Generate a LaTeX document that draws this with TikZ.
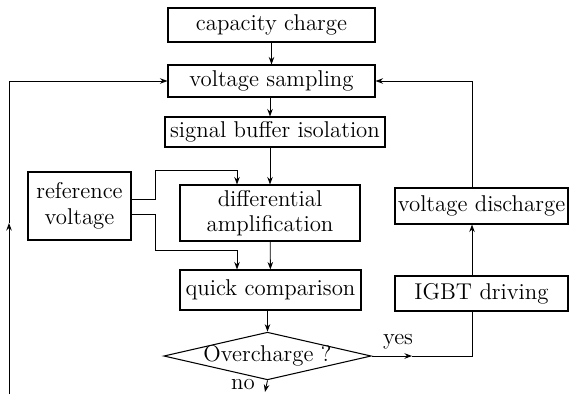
\documentclass[tikz,border=0pt]{standalone}
\usetikzlibrary{
  arrows.meta,
  shapes.geometric,
  calc
}
\tikzset{
  stage/.style={
    draw, line width=0.6pt, inner sep=1pt, align=center,
    font=\fontsize{13}{14.5}\selectfont
  },
  decision/.style={
    draw, diamond, line width=0.6pt, aspect=4.35, inner xsep=-1.1mm, inner ysep=0pt,
    font=\fontsize{13}{14.5}\selectfont
  },
  flow/.style={-{Stealth[length=1.5mm, width=1.1mm]}, line width=0.5pt},
  wire/.style={line width=0.5pt},
  tag/.style={font=\fontsize{13}{14.5}\selectfont, inner sep=1pt}
}
\begin{document}
\begin{tikzpicture}[x=0.2mm, y=0.2mm]
  \useasboundingbox (0,0) rectangle (570,394);
  % main column
  \node[stage, minimum width=41.4mm, minimum height=6.8mm] (charge) at (271.5,369) {capacity charge};
  \node[stage, minimum width=41.4mm, minimum height=6.4mm] (sampling) at (271.5,313) {voltage sampling};
  \node[stage, minimum width=44mm, minimum height=6mm] (buffer) at (275,262) {signal buffer isolation};
  \node[stage, minimum width=20.6mm, minimum height=13.6mm] (refv) at (79.5,188) {reference\\voltage};
  \node[stage, minimum width=36mm, minimum height=11.2mm] (diffamp) at (270,181) {differential\\amplification};
  \node[stage, minimum width=36.2mm, minimum height=8mm] (compare) at (270.5,104) {quick comparison};
  \node[decision] (decide) at (267.5,38) {Overcharge ?};
  % discharge branch
  \node[stage, minimum width=34.6mm, minimum height=7mm] (igbt) at (481.5,100.5) {IGBT driving};
  \node[stage, minimum width=34.6mm, minimum height=7.2mm] (discharge) at (481.5,188) {voltage discharge};

  \coordinate (rline) at (472,0);
  \coordinate (refup) at (155,224);
  \coordinate (refdown) at (155,144);
  \coordinate (yesmid) at (412,38);
  \coordinate (lbot) at (9,0);
  \coordinate (lmid) at (9,171);
  \coordinate (nobot) at (265,2);

  \draw[flow] (charge) -- (sampling);
  \draw[flow] (diffamp.north |- sampling.south) -- (diffamp.north |- buffer.north);
  \draw[flow] (diffamp.north |- buffer.south) -- (diffamp.north);
  \draw[flow] ([yshift=1.4mm]refv.east) -| (refup) -| ([xshift=-6.6mm]diffamp.north);
  \draw[flow] ([yshift=-1.6mm]refv.east) -| (refdown) -| ([xshift=-6.7mm]compare.north);
  \draw[flow] (diffamp) -- (compare);
  \draw[flow] (compare.south -| decide.north) -- (decide.north);

  % yes / no
  \draw[flow] (decide.east) -- (yesmid);
  \draw[wire] (yesmid) -| (igbt.south -| rline);
  \node[tag] (yes) at (398,52) {yes};
  \draw[flow] (decide.south) -- (nobot);
  \node[tag] (no) at (243,9) {no};

  \draw[flow] (igbt.north -| rline) -- (discharge.south -| rline);
  \draw[flow] (discharge.north -| rline) |- (sampling.east);

  % feedback loop
  \draw[flow] (lbot) -- (lmid);
  \draw[flow] (lmid) |- (sampling.west);
\end{tikzpicture}
\end{document}
